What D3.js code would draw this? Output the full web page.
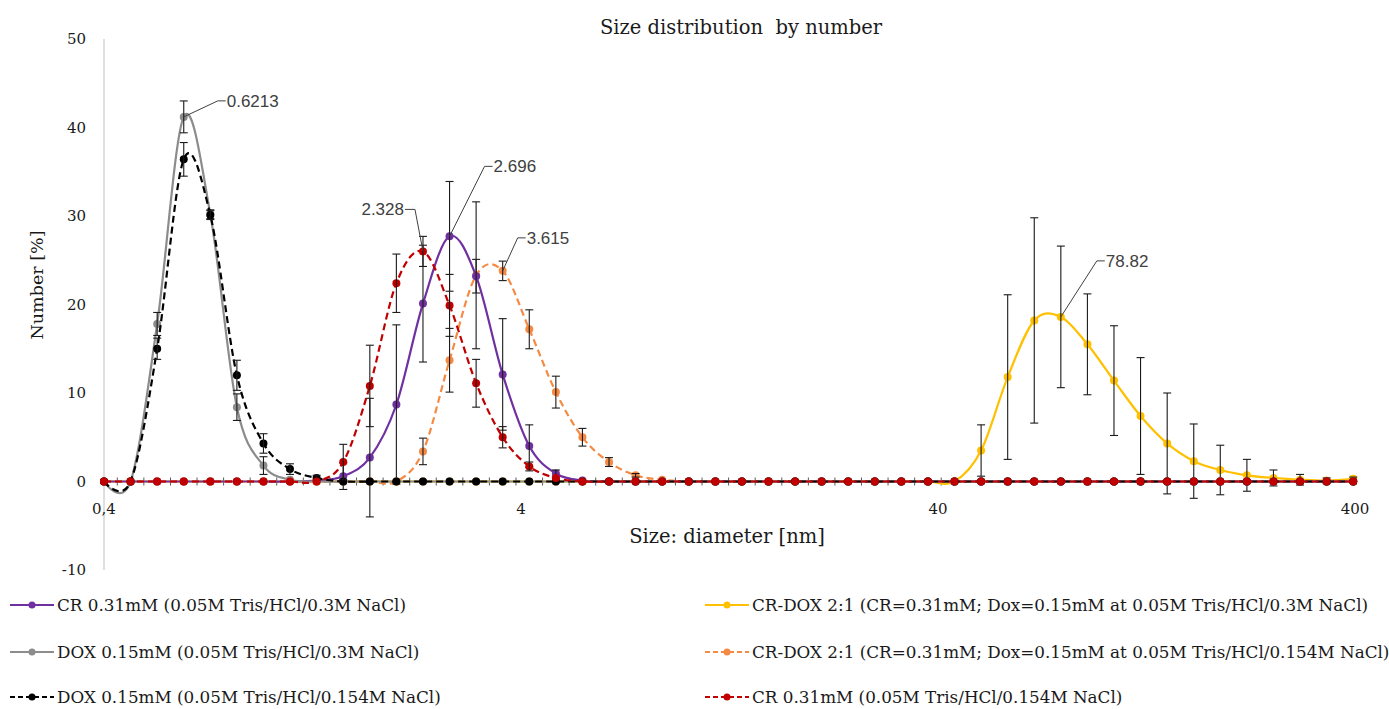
<!DOCTYPE html>
<html>
<head>
<meta charset="utf-8">
<script src="https://cdn.jsdelivr.net/npm/d3@7"></script>
<style>
  body { margin: 0; background: #fff; }
  svg { display: block; }
  .serif { font-family: "Palatino Linotype", "Book Antiqua", Palatino, "DejaVu Serif", serif; fill: #1a1a1a; white-space: pre; }
  .lbl { font-family: "Liberation Sans", Arial, sans-serif; fill: #404040; }
</style>
</head>
<body>
<svg id="chart" width="1389" height="709"></svg>
<script>
// size bins [nm]
var bins = [0.4, 0.4632, 0.5365, 0.6213, 0.7195, 0.8332, 0.9649, 1.117, 1.294, 1.499,
  1.736, 2.010, 2.328, 2.696, 3.122, 3.615, 4.187, 4.849, 5.615, 6.503,
  7.531, 8.721, 10.10, 11.70, 13.54, 15.69, 18.17, 21.04, 24.36, 28.21,
  32.67, 37.84, 43.82, 50.75, 58.77, 68.06, 78.82, 91.28, 105.7, 122.4,
  141.8, 164.2, 190.1, 220.2, 255.0, 295.3, 342.0, 396.1];

// number [%] per bin
var crHigh = [0,0,0,0,0,0,0,0,0.1,0.6, 2.7,8.7,20.1,27.7,23.2,12.1,4.0,0.9,0.1,0, 0,0,0,0,0,0,0,0,0,0, 0,0,0,0,0,0,0,0,0,0, 0,0,0,0,0,0,0,0];
var crHighErr = [0,0,0,0,0,0,0,0,0,1.5, 6.7,9.0,6.6,6.2,1.9,6.3,2.4,0.4,0,0, 0,0,0,0,0,0,0,0,0,0, 0,0,0,0,0,0,0,0,0,0, 0,0,0,0,0,0,0,0];

var doxHigh = [0,0,17.8,41.2,30.2,8.4,1.8,0.2,0,0, 0,0,0,0,0,0,0,0,0,0, 0,0,0,0,0,0,0,0,0,0, 0,0,0,0,0,0,0,0,0,0, 0,0,0,0,0,0,0,0];
var doxHighErr = [0,0,1.3,1.8,0.5,1.5,1.0,0,0,0, 0,0,0,0,0,0,0,0,0,0, 0,0,0,0,0,0,0,0,0,0, 0,0,0,0,0,0,0,0,0,0, 0,0,0,0,0,0,0,0];

var doxLow = [0,0,15.0,36.4,30.1,12.0,4.3,1.4,0.4,0, 0,0,0,0,0,0,0,0,0,0, 0,0,0,0,0,0,0,0,0,0, 0,0,0,0,0,0,0,0,0,0, 0,0,0,0,0,0,0,0];
var doxLowErr = [0,0,1.2,1.9,0.5,1.7,1.1,0.6,0.3,0, 0,0,0,0,0,0,0,0,0,0, 0,0,0,0,0,0,0,0,0,0, 0,0,0,0,0,0,0,0,0,0, 0,0,0,0,0,0,0,0];

var mixHigh = [0,0,0,0,0,0,0,0,0,0, 0,0,0,0,0,0,0,0,0,0, 0,0,0,0,0,0,0,0,0,0, 0,0,0,3.5,11.8,18.2,18.6,15.5,11.4,7.4, 4.3,2.3,1.3,0.7,0.4,0.2,0.1,0.3];
var mixHighErr = [0,0,0,0,0,0,0,0,0,0, 0,0,0,0,0,0,0,0,0,0, 0,0,0,0,0,0,0,0,0,0, 0,0,0,2.9,9.3,11.6,8.0,5.7,6.2,6.6, 5.7,4.2,2.8,1.8,0.9,0.6,0.3,0.2];

var mixLow = [0,0,0,0,0,0,0,0,0,0, 0,0,3.4,13.7,23.3,23.8,17.2,10.1,5.0,2.2, 0.7,0.2,0,0,0,0,0,0,0,0, 0,0,0,0,0,0,0,0,0,0, 0,0,0,0,0,0,0,0];
var mixLowErr = [0,0,0,0,0,0,0,0,0,0, 0,0,1.5,3.6,8.3,1.1,2.2,1.8,1.0,0.5, 0.2,0,0,0,0,0,0,0,0,0, 0,0,0,0,0,0,0,0,0,0, 0,0,0,0,0,0,0,0];

var crLow = [0,0,0,0,0,0,0,0,0,2.2, 10.8,22.4,26.0,19.9,11.1,5.0,1.7,0.4,0,0, 0,0,0,0,0,0,0,0,0,0, 0,0,0,0,0,0,0,0,0,0, 0,0,0,0,0,0,0,0];
var crLowErr = [0,0,0,0,0,0,0,0,0,2.0, 4.6,3.3,1.7,3.5,2.7,1.2,0.5,0,0,0, 0,0,0,0,0,0,0,0,0,0, 0,0,0,0,0,0,0,0,0,0, 0,0,0,0,0,0,0,0];

var xTicks = [0.4, 4, 40, 400];
var xTickLabels = ["0,4", "4", "40", "400"];
var yTicks = [-10, 0, 10, 20, 30, 40, 50];

var series = [
  {name: "CR 0.31mM (0.05M Tris/HCl/0.3M NaCl)", values: crHigh, err: crHighErr, color: "#7030a0", dash: null},
  {name: "DOX 0.15mM (0.05M Tris/HCl/0.3M NaCl)", values: doxHigh, err: doxHighErr, color: "#8c8c8c", dash: null},
  {name: "DOX 0.15mM (0.05M Tris/HCl/0.154M NaCl)", values: doxLow, err: doxLowErr, color: "#000000", dash: "7,4"},
  {name: "CR-DOX 2:1 (CR=0.31mM; Dox=0.15mM at 0.05M Tris/HCl/0.3M NaCl)", values: mixHigh, err: mixHighErr, color: "#ffc000", dash: null},
  {name: "CR-DOX 2:1 (CR=0.31mM; Dox=0.15mM at 0.05M Tris/HCl/0.154M NaCl)", values: mixLow, err: mixLowErr, color: "#f58a45", dash: "7,4"},
  {name: "CR 0.31mM (0.05M Tris/HCl/0.154M NaCl)", values: crLow, err: crLowErr, color: "#c00000", dash: "7,4"}
];
// painting order (black and red zero points end up on top)
var drawOrder = [3, 4, 0, 1, 2, 5];

// peak labels: series index, bin index, label
var peaks = [
  {s: 1, i: 3, text: "0.6213", dx: 34, dy: -16, side: "right"},
  {s: 0, i: 13, text: "2.696", dx: 35, dy: -70, side: "right"},
  {s: 5, i: 12, text: "2.328", dx: -8, dy: -42, side: "left"},
  {s: 4, i: 15, text: "3.615", dx: 15, dy: -33, side: "right"},
  {s: 3, i: 36, text: "78.82", dx: 36, dy: -56, side: "right"}
];

var svg = d3.select("#chart");

var x = d3.scaleLog().domain([0.4, 400]).range([104, 1355]);
var y = d3.scaleLinear().domain([-10, 50]).range([570, 39]);

// title
svg.append("text").attr("class", "serif")
  .attr("x", 741).attr("y", 34)
  .attr("text-anchor", "middle").style("font-size", "19.5px")
  .text("Size distribution  by number");

// y axis line
svg.append("line")
  .attr("x1", x(0.4)).attr("x2", x(0.4))
  .attr("y1", y(50)).attr("y2", y(-10))
  .attr("stroke", "#bfbfbf").attr("stroke-width", 1);

svg.selectAll(".ytick").data(yTicks).enter().append("text")
  .attr("class", "serif ytick")
  .attr("x", 86).attr("y", function(d) { return y(d); })
  .attr("dy", "0.35em").attr("text-anchor", "end")
  .style("font-size", "15px")
  .text(function(d) { return d; });

// x axis line at zero
svg.append("line")
  .attr("x1", x(0.4)).attr("x2", x(400))
  .attr("y1", y(0)).attr("y2", y(0))
  .attr("stroke", "#bfbfbf").attr("stroke-width", 1);

// small tick marks between bins
var mids = d3.range(0, 32).map(function(i) { return Math.sqrt(bins[i] * bins[i + 1]); });
svg.selectAll(".mtick").data(mids).enter().append("line")
  .attr("class", "mtick")
  .attr("x1", function(d) { return x(d); }).attr("x2", function(d) { return x(d); })
  .attr("y1", y(0) - 4).attr("y2", y(0) + 4)
  .attr("stroke", "#595959").attr("stroke-width", 1);

svg.selectAll(".xtick").data(xTicks).enter().append("text")
  .attr("class", "serif xtick")
  .attr("x", function(d) { return x(d); }).attr("y", 514)
  .attr("text-anchor", "middle").style("font-size", "15px")
  .text(function(d, i) { return xTickLabels[i]; });

// axis titles
svg.append("text").attr("class", "serif")
  .attr("x", 727).attr("y", 543).attr("text-anchor", "middle")
  .style("font-size", "19.5px")
  .text("Size: diameter [nm]");

svg.append("text").attr("class", "serif")
  .attr("transform", "translate(43,285) rotate(-90)")
  .attr("text-anchor", "middle").style("font-size", "17.5px")
  .text("Number [%]");

var line = d3.line()
  .x(function(d, i) { return x(bins[i]); })
  .y(function(d) { return y(d); })
  .curve(d3.curveCardinal.tension(0));

drawOrder.forEach(function(k) {
  var s = series[k];
  var g = svg.append("g");
  g.append("path").datum(s.values)
    .attr("d", line)
    .attr("fill", "none")
    .attr("stroke", s.color)
    .attr("stroke-width", 2.2)
    .attr("stroke-dasharray", s.dash);

  g.selectAll("circle").data(s.values).enter().append("circle")
    .attr("cx", function(d, i) { return x(bins[i]); })
    .attr("cy", function(d) { return y(d); })
    .attr("r", 4)
    .attr("fill", s.color);

  var eb = s.values.map(function(v, i) { return {x: bins[i], v: v, e: s.err[i]}; })
    .filter(function(d) { return d.e > 0; });
  var bars = g.selectAll(".eb").data(eb).enter().append("g");
  bars.append("line")
    .attr("x1", function(d) { return x(d.x); }).attr("x2", function(d) { return x(d.x); })
    .attr("y1", function(d) { return y(d.v + d.e); }).attr("y2", function(d) { return y(d.v - d.e); });
  bars.append("line")
    .attr("x1", function(d) { return x(d.x) - 4; }).attr("x2", function(d) { return x(d.x) + 4; })
    .attr("y1", function(d) { return y(d.v + d.e); }).attr("y2", function(d) { return y(d.v + d.e); });
  bars.append("line")
    .attr("x1", function(d) { return x(d.x) - 4; }).attr("x2", function(d) { return x(d.x) + 4; })
    .attr("y1", function(d) { return y(d.v - d.e); }).attr("y2", function(d) { return y(d.v - d.e); });
  bars.selectAll("line").attr("stroke", "#1a1a1a").attr("stroke-width", 1.1);
});

// peak labels with leader lines
peaks.forEach(function(p) {
  var px = x(bins[p.i]), py = y(series[p.s].values[p.i]);
  var ex = px + p.dx, ey = py + p.dy;
  var hx = p.side == "right" ? ex + 8 : ex - 10;
  svg.append("polyline")
    .attr("points", px + "," + py + " " + ex + "," + ey + " " + hx + "," + ey)
    .attr("fill", "none").attr("stroke", "#404040").attr("stroke-width", 1);
  svg.append("text").attr("class", "lbl")
    .attr("x", p.side == "right" ? hx + 1 : hx - 1).attr("y", ey)
    .attr("dy", "0.35em")
    .attr("text-anchor", p.side == "right" ? "start" : "end")
    .style("font-size", "17px")
    .text(p.text);
});

// legend
var legendPos = [[10, 605], [10, 652], [10, 697], [705, 605], [705, 652], [705, 697]];
series.forEach(function(s, k) {
  var lx = legendPos[k][0], ly = legendPos[k][1];
  var g = svg.append("g");
  g.append("line")
    .attr("x1", lx).attr("x2", lx + 44).attr("y1", ly).attr("y2", ly)
    .attr("stroke", s.color).attr("stroke-width", 2.2)
    .attr("stroke-dasharray", s.dash ? "5,3" : null);
  g.append("circle").attr("cx", lx + 22).attr("cy", ly).attr("r", 3.5).attr("fill", s.color);
  g.append("text").attr("class", "serif")
    .attr("x", lx + 47).attr("y", ly).attr("dy", "0.35em")
    .style("font-size", "16.8px")
    .text(s.name);
});
</script>
</body>
</html>
